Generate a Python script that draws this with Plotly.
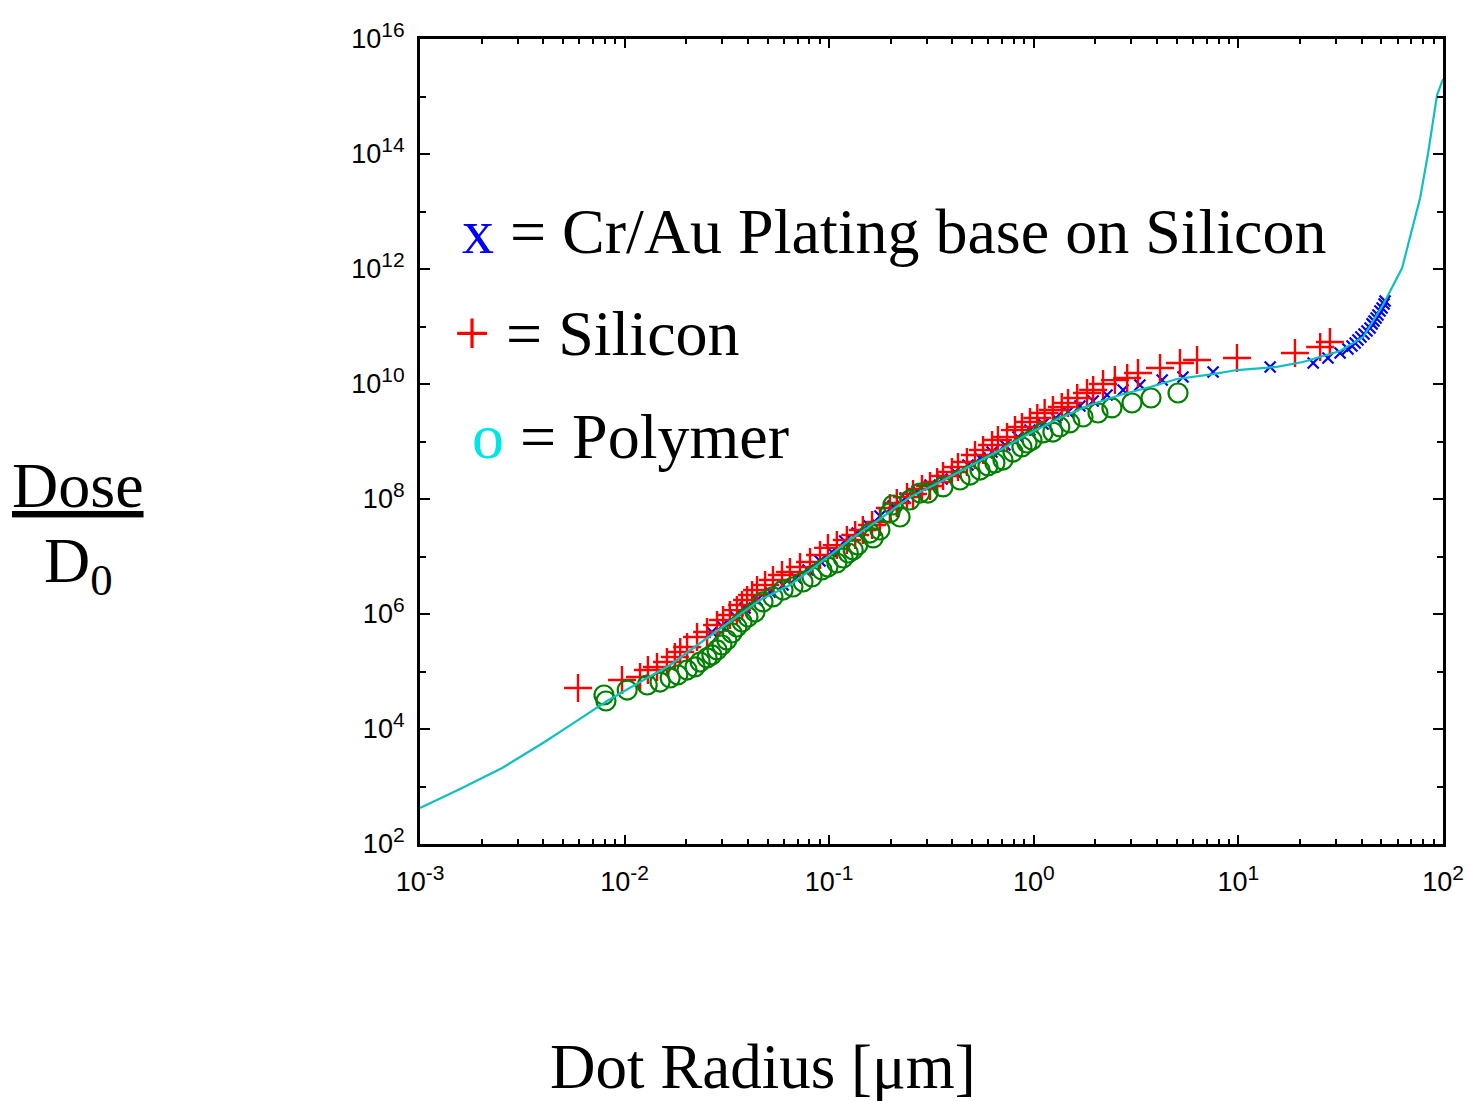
import plotly.graph_objects as go

# ---- data (dot radius in um, dose / D0) ----
curve_r = [0.001, 1.57e-3, 2.52e-3, 3.99e-3, 5.72e-3, 8.21e-3, 1.19e-2, 1.67e-2, 2.34e-2, 3.27e-2,
           4.59e-2, 6.43e-2, 9.02e-2, 0.126, 0.177, 0.248, 0.348, 0.488, 0.684, 0.958,
           1.34, 1.88, 2.64, 3.70, 5.01, 7.52, 9.84, 15.4, 20.7, 31.4,
           40.7, 50.9, 63.1, 77.3, 84.6, 93.5, 100]
curve_d = [423, 906, 2.10e3, 5.71e3, 1.32e4, 3.07e4, 6.56e4, 1.30e5, 3.13e5, 7.26e5,
           1.75e6, 3.19e6, 7.71e6, 1.94e7, 4.49e7, 1.08e8, 1.98e8, 3.75e8, 7.11e8, 1.41e9,
           2.56e9, 4.32e9, 6.44e9, 8.87e9, 1.22e10, 1.49e10, 1.75e10, 1.98e10, 2.41e10, 3.75e10,
           6.56e10, 2.37e11, 1.04e12, 1.72e13, 1.04e14, 1.06e15, 2.01e15]

si_r = [5.92e-3, 9.71e-3, 1.19e-2, 1.30e-2, 1.44e-2, 1.61e-2, 1.76e-2, 1.87e-2, 2.02e-2, 2.26e-2,
        2.53e-2, 2.83e-2, 3.03e-2, 3.27e-2, 3.54e-2, 3.75e-2, 3.97e-2, 4.20e-2, 4.44e-2, 4.86e-2,
        5.31e-2, 5.88e-2, 6.43e-2, 7.20e-2, 8.06e-2, 9.02e-2, 9.86e-2, 0.109, 0.122, 0.134,
        0.146, 0.162, 0.177, 0.198, 0.214, 0.240, 0.257, 0.284, 0.311, 0.337,
        0.360, 0.398, 0.426, 0.471, 0.516, 0.565, 0.625, 0.668, 0.740, 0.809,
        0.875, 0.958, 1.04, 1.13, 1.24, 1.37, 1.47, 1.63, 1.82, 1.95,
        2.18, 2.49, 2.86, 3.23, 4.14, 5.18, 6.28, 9.84, 18.9, 25.1, 28.0]
si_d = [5.16e4, 7.11e4, 8.02e4, 1.06e5, 1.20e5, 1.46e5, 1.79e5, 2.18e5, 2.67e5, 3.98e5,
        4.86e5, 6.44e5, 7.87e5, 9.61e5, 1.17e6, 1.43e6, 1.75e6, 2.14e6, 2.61e6, 3.19e6,
        3.90e6, 4.76e6, 5.37e6, 6.56e6, 8.02e6, 1.06e7, 1.41e7, 1.58e7, 1.94e7, 2.37e7,
        2.89e7, 3.53e7, 3.98e7, 6.97e7, 8.51e7, 1.08e8, 1.22e8, 1.49e8, 1.68e8, 1.98e8,
        2.51e8, 2.95e8, 3.60e8, 4.40e8, 5.82e8, 7.11e8, 8.69e8, 1.06e9, 1.20e9, 1.58e9,
        1.79e9, 2.18e9, 2.56e9, 3.13e9, 3.53e9, 3.98e9, 4.67e9, 5.71e9, 6.97e9, 7.87e9,
        1.00e10, 1.17e10, 1.27e10, 1.55e10, 1.90e10, 2.32e10, 2.61e10, 2.83e10, 3.46e10, 4.40e10, 5.37e10]

crau_r = [2.67e-2, 2.99e-2, 3.46e-2, 3.88e-2, 4.44e-2, 5.14e-2, 5.95e-2, 6.88e-2, 7.88e-2, 9.02e-2,
          0.103, 0.119, 0.137, 0.155, 0.177, 0.205, 0.235, 0.269, 0.311, 0.356,
          0.412, 0.477, 0.546, 0.625, 0.723, 0.837, 0.958, 1.11, 1.28, 1.47,
          1.68, 1.95, 2.28, 2.73, 3.30, 4.24, 5.36, 7.52, 14.3, 23.2,
          27.4, 31.4, 34.3, 35.9, 37.2, 38.4, 39.7, 41.1, 42.5, 44.0,
          45.0, 46.0, 47.1, 48.1, 49.2, 50.4, 51.5, 52.1]
crau_d = [4.86e5, 6.18e5, 9.23e5, 1.27e6, 1.75e6, 2.41e6, 3.19e6, 4.23e6, 5.82e6, 8.35e6,
          1.20e7, 1.86e7, 2.56e7, 3.53e7, 5.06e7, 7.55e7, 1.04e8, 1.38e8, 1.75e8, 2.23e8,
          2.95e8, 3.90e8, 5.16e8, 6.56e8, 8.69e8, 1.20e9, 1.58e9, 2.01e9, 2.56e9, 3.26e9,
          4.14e9, 5.06e9, 6.44e9, 7.87e9, 9.61e9, 1.17e10, 1.32e10, 1.62e10, 1.98e10, 2.32e10,
          2.83e10, 3.46e10, 4.06e10, 4.58e10, 5.16e10, 5.82e10, 6.56e10, 7.41e10, 8.35e10, 9.42e10,
          1.11e11, 1.25e11, 1.41e11, 1.58e11, 1.86e11, 2.10e11, 2.46e11, 2.77e11]

poly_r = [7.93e-3, 8.11e-3, 1.03e-2, 1.29e-2, 1.49e-2, 1.67e-2, 1.82e-2, 2.02e-2, 2.21e-2, 2.34e-2,
          2.53e-2, 2.67e-2, 2.83e-2, 2.99e-2, 3.16e-2, 3.35e-2, 3.54e-2, 3.75e-2, 4.01e-2, 4.34e-2,
          4.75e-2, 5.31e-2, 5.95e-2, 6.65e-2, 7.45e-2, 8.24e-2, 9.22e-2, 9.86e-2, 0.109, 0.117,
          0.124, 0.131, 0.138, 0.158, 0.164, 0.177, 0.198, 0.205, 0.222, 0.248,
          0.278, 0.304, 0.360, 0.436, 0.488, 0.546, 0.597, 0.646, 0.707, 0.791,
          0.875, 0.927, 0.980, 1.11, 1.24, 1.34, 1.50, 1.74, 2.06, 2.41,
          3.02, 3.74, 5.07]
poly_d = [3.90e4, 3.07e4, 4.76e4, 5.82e4, 6.56e4, 7.71e4, 8.69e4, 1.06e5, 1.20e5, 1.46e5,
          1.72e5, 1.94e5, 2.37e5, 2.89e5, 3.53e5, 4.67e5, 5.94e5, 7.26e5, 8.87e5, 1.08e6,
          1.62e6, 1.98e6, 2.61e6, 2.95e6, 3.60e6, 4.40e6, 5.82e6, 6.56e6, 7.71e6, 9.42e6,
          1.15e7, 1.30e7, 1.58e7, 2.56e7, 2.10e7, 2.89e7, 5.71e7, 7.87e7, 4.86e7, 9.61e7,
          1.27e8, 1.27e8, 1.62e8, 2.14e8, 2.61e8, 3.19e8, 3.75e8, 4.23e8, 4.76e8, 6.56e8,
          8.02e8, 9.42e8, 1.06e9, 1.41e9, 1.46e9, 1.79e9, 2.10e9, 2.67e9, 3.13e9, 3.83e9,
          4.67e9, 5.71e9, 6.97e9]

x_tick_vals = [1e-3, 1e-2, 1e-1, 1, 10, 100]
x_exps = ["-3", "-2", "-1", "0", "1", "2"]
y_tick_vals = [1e2, 1e4, 1e6, 1e8, 1e10, 1e12, 1e14, 1e16]
y_exps = ["2", "4", "6", "8", "10", "12", "14", "16"]
y_minor_vals = [1e3, 1e5, 1e7, 1e9, 1e11, 1e13, 1e15]


def pow_label(e):
    return "10<sup><span style='font-size:21px'>" + e + "</span></sup>"


# ---- figure ----
fig = go.Figure()
fig.add_trace(go.Scatter(x=crau_r, y=crau_d, mode="markers", name="Cr/Au",
                         marker=dict(symbol="x-thin", size=11, color="blue",
                                     line=dict(color="blue", width=2.2))))
fig.add_trace(go.Scatter(x=si_r, y=si_d, mode="markers", name="Silicon",
                         marker=dict(symbol="cross-thin", size=20, color="red",
                                     line=dict(color="red", width=2.4))))
fig.add_trace(go.Scatter(x=poly_r, y=poly_d, mode="markers", name="Polymer",
                         marker=dict(symbol="circle-open", size=19, color="green",
                                     line=dict(color="green", width=2.2))))
fig.add_trace(go.Scatter(x=curve_r, y=curve_d, mode="lines", name="fit",
                         line=dict(color="#10BFBF", width=2.2)))

tickfont = dict(family="Liberation Sans, Arial, sans-serif", size=27, color="black")
fig.update_xaxes(type="log", range=[-3, 2], showline=True, linecolor="black", linewidth=3,
                 mirror="ticks", ticks="inside", ticklen=9, tickwidth=2, tickcolor="black",
                 tickvals=x_tick_vals, ticktext=[pow_label(e) for e in x_exps], tickfont=tickfont,
                 showgrid=False, zeroline=False, ticklabelstandoff=12,
                 minor=dict(ticks="inside", ticklen=5, tickwidth=2, tickcolor="black",
                            dtick="D1", showgrid=False))
fig.update_yaxes(type="log", range=[2, 16], showline=True, linecolor="black", linewidth=3,
                 mirror="ticks", ticks="inside", ticklen=10, tickwidth=2, tickcolor="black",
                 tickvals=y_tick_vals, ticktext=[pow_label(e) for e in y_exps], tickfont=tickfont,
                 showgrid=False, zeroline=False, ticklabelstandoff=7,
                 minor=dict(ticks="inside", ticklen=6, tickwidth=2, tickcolor="black",
                            tickvals=y_minor_vals, showgrid=False))

serif = "Liberation Serif, Times New Roman, serif"
big = dict(family=serif, size=64, color="black")
annos = [
    dict(text="<span style='color:blue'>x</span> = Cr/Au Plating base on Silicon",
         x=0.039, y=0.761, xanchor="left", yanchor="middle"),
    dict(text="<span style='color:red'>+</span> = Silicon",
         x=0.031, y=0.634, xanchor="left", yanchor="middle"),
    dict(text="<span style='color:#00E5E5'>o</span> = Polymer",
         x=0.049, y=0.506, xanchor="left", yanchor="middle"),
    dict(text="<u>Dose</u>", x=-0.334, y=0.445, xanchor="center", yanchor="middle"),
    dict(text="D<sub>0</sub>", x=-0.334, y=0.347, xanchor="center", yanchor="middle"),
]
for a in annos:
    fig.add_annotation(xref="paper", yref="paper", showarrow=False, font=big, **a)

fig.add_annotation(xref="paper", yref="paper", showarrow=False,
                   font=dict(family=serif, size=63, color="black"),
                   text="Dot Radius [μm]", x=0.335, y=-0.3225,
                   xanchor="center", yanchor="bottom")

fig.update_layout(width=1475, height=1101, margin=dict(l=420, r=32, t=39, b=257),
                  plot_bgcolor="white", paper_bgcolor="white", showlegend=False)
fig.write_html("out.html")
